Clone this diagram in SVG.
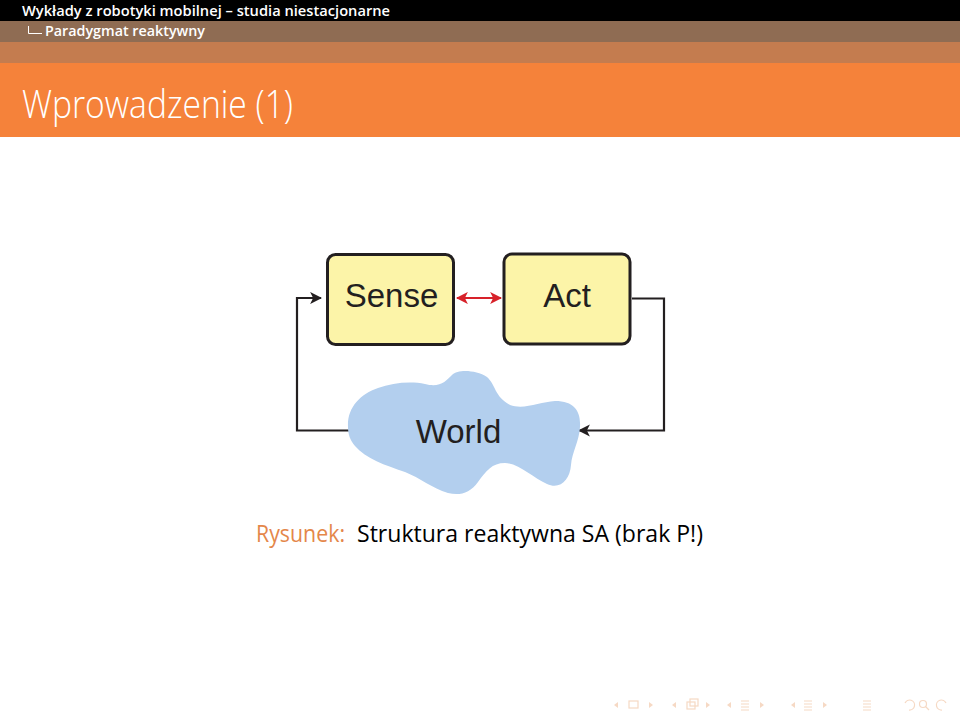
<svg xmlns="http://www.w3.org/2000/svg" width="960" height="720" viewBox="0 0 960 720">
<style>
.hdr{font-family:"Open Sans","DejaVu Sans",sans-serif;font-weight:600;fill:#fff}
.lbl{font-family:"Liberation Sans",Arial,sans-serif;font-size:33px;fill:#231f20;text-anchor:middle}
.box{fill:#fcf4a8;stroke:#231f20;stroke-width:3}
.con{fill:none;stroke:#231f20;stroke-width:2.2}
.nav{fill:none;stroke:#f6d9c4;stroke-width:1.2}
.navf{fill:#f6d9c4}
</style>
<defs>
<marker id="ah" viewBox="0 0 10 10" refX="9" refY="5" markerWidth="5.5" markerHeight="5.5" orient="auto" markerUnits="strokeWidth">
<path d="M0,0 L10,5 L0,10 L2.5,5 z" fill="#231f20"/>
</marker>
<marker id="rh" viewBox="0 0 10 10" refX="9" refY="5" markerWidth="5.5" markerHeight="5.5" orient="auto-start-reverse" markerUnits="strokeWidth">
<path d="M0,0 L10,5 L0,10 L2.5,5 z" fill="#d7222a"/>
</marker>
</defs>
<rect x="0" y="0" width="960" height="720" fill="#fff"/>
<g id="header">
<rect x="0" y="0" width="960" height="21" fill="#000"/>
<rect x="0" y="21" width="960" height="21" fill="#8f6c53"/>
<rect x="0" y="42" width="960" height="21" fill="#c47c4f"/>
<rect x="0" y="63" width="960" height="74" fill="#f5823a"/>
<text class="hdr" x="22" y="16" font-size="13.5" textLength="368" lengthAdjust="spacingAndGlyphs">Wykłady z robotyki mobilnej – studia niestacjonarne</text>
<path d="M28.5,26 V33.5 H42" fill="none" stroke="#fff" stroke-width="1"/>
<text class="hdr" x="45" y="36" font-size="13.5" textLength="160" lengthAdjust="spacingAndGlyphs">Paradygmat reaktywny</text>
<text x="22" y="118" font-family="'Open Sans','DejaVu Sans',sans-serif" font-weight="300" font-size="38" fill="#fff" textLength="271" lengthAdjust="spacingAndGlyphs">Wprowadzenie (1)</text>
</g>
<g id="connectors">
<path class="con" d="M349,430.5 H297 V298 H321" marker-end="url(#ah)"/>
<path class="con" d="M632,298.5 H664 V430.5 H579" marker-end="url(#ah)"/>
<path d="M457,298 H501" fill="none" stroke="#d7222a" stroke-width="2.2" marker-start="url(#rh)" marker-end="url(#rh)"/>
</g>
<g id="world">
<path d="M348,427 C347,408 360,394 378,388 C392,383 410,381 425,384 C440,388 446,381 452,375 C458,369 476,370 487,377 C496,385 494,396 510,405 C524,410 540,402 555,401 C575,401 581,412 580,427 C579,442 572,452 571,465 C570,480 560,490 547,484 C533,478 520,464 505,463 C492,463 486,471 478,482 C470,493 460,496 448,493 C432,488 420,478 405,472 C385,465 366,459 355,446 C350,440 348,434 348,427 Z" fill="#b3cfee"/>
<text class="lbl" x="458.5" y="443">World</text>
</g>
<g id="sense">
<rect class="box" x="327.5" y="254.5" width="126" height="90" rx="8"/>
<text class="lbl" x="391.5" y="307">Sense</text>
</g>
<g id="act">
<rect class="box" x="504" y="254" width="126" height="90" rx="8"/>
<text class="lbl" x="567" y="307">Act</text>
</g>
<g id="caption" font-family="'Open Sans','DejaVu Sans',sans-serif" font-size="23">
<text x="256" y="542" fill="#e4874a" textLength="89" lengthAdjust="spacingAndGlyphs">Rysunek:</text>
<text x="357" y="542" fill="#000" textLength="346" lengthAdjust="spacingAndGlyphs">Struktura reaktywna SA (brak P!)</text>
</g>
<g id="navigation">
<path class="navf" d="M618,702 L614,705 L618,708 Z"/>
<rect class="nav" x="629" y="701" width="9" height="7"/>
<path class="navf" d="M649,702 L653,705 L649,708 Z"/>
<path class="navf" d="M676,702 L672,705 L676,708 Z"/>
<rect class="nav" x="687" y="702" width="8" height="7"/>
<rect class="nav" x="690" y="699" width="8" height="7"/>
<path class="navf" d="M706,702 L710,705 L706,708 Z"/>
<path class="navf" d="M731,702 L727,705 L731,708 Z"/>
<path class="nav" d="M741,701 H749 M741,704 H749 M741,707 H749 M741,710 H749"/>
<path class="navf" d="M760,702 L764,705 L760,708 Z"/>
<path class="navf" d="M795,702 L791,705 L795,708 Z"/>
<path class="nav" d="M804,701 H812 M804,704 H812 M804,707 H812 M804,710 H812"/>
<path class="navf" d="M823,702 L827,705 L823,708 Z"/>
<path class="nav" d="M863,701 H871 M863,704 H871 M863,707 H871 M863,710 H871"/>
<path class="nav" d="M905,703 A5,5 0 1 1 909,710"/>
<circle class="nav" cx="923" cy="704" r="3.5"/>
<path class="nav" d="M925.5,706.5 L929,710"/>
<path class="nav" d="M946,703 A5,5 0 1 0 942,710"/>
</g>
</svg>
